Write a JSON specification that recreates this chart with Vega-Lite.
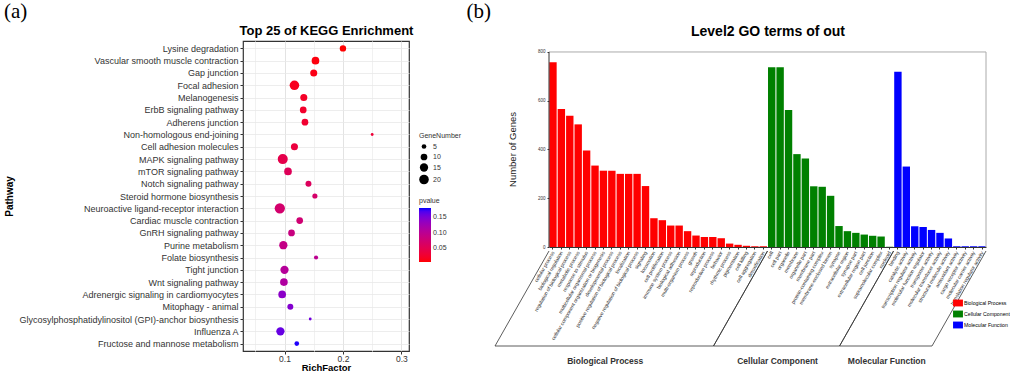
{
  "$schema": "https://vega.github.io/schema/vega-lite/v6.json",
  "padding": {"left": 3, "top": 0, "right": 0, "bottom": 0},
  "background": "white",
  "config": {"font": "Liberation Sans", "view": {"stroke": null}},
  "spacing": 3,
  "resolve": {"scale": {"color": "independent", "size": "independent", "x": "independent", "y": "independent"}, "legend": {"color": "independent", "size": "independent"}},
  "hconcat": [
    {
      "width": 166,
      "height": 310,
      "title": {"text": "(a)", "anchor": "start", "font": "Liberation Serif", "fontSize": 21, "fontWeight": "normal", "color": "black", "offset": 2},
      "view": {"stroke": "#333333", "strokeWidth": 1.2},
      "data": {"values": [
        {"pathway": "Lysine degradation", "rf": 0.200, "genes": 9, "p": 0.004},
        {"pathway": "Vascular smooth muscle contraction", "rf": 0.153, "genes": 13, "p": 0.008},
        {"pathway": "Gap junction", "rf": 0.150, "genes": 11, "p": 0.011},
        {"pathway": "Focal adhesion", "rf": 0.117, "genes": 20, "p": 0.015},
        {"pathway": "Melanogenesis", "rf": 0.133, "genes": 11, "p": 0.020},
        {"pathway": "ErbB signaling pathway", "rf": 0.132, "genes": 10, "p": 0.023},
        {"pathway": "Adherens junction", "rf": 0.135, "genes": 10, "p": 0.026},
        {"pathway": "Non-homologous end-joining", "rf": 0.250, "genes": 2, "p": 0.030},
        {"pathway": "Cell adhesion molecules", "rf": 0.117, "genes": 11, "p": 0.035},
        {"pathway": "MAPK signaling pathway", "rf": 0.097, "genes": 22, "p": 0.045},
        {"pathway": "mTOR signaling pathway", "rf": 0.106, "genes": 13, "p": 0.055},
        {"pathway": "Notch signaling pathway", "rf": 0.141, "genes": 8, "p": 0.058},
        {"pathway": "Steroid hormone biosynthesis", "rf": 0.152, "genes": 6, "p": 0.068},
        {"pathway": "Neuroactive ligand-receptor interaction", "rf": 0.092, "genes": 23, "p": 0.070},
        {"pathway": "Cardiac muscle contraction", "rf": 0.126, "genes": 10, "p": 0.075},
        {"pathway": "GnRH signaling pathway", "rf": 0.112, "genes": 10, "p": 0.085},
        {"pathway": "Purine metabolism", "rf": 0.098, "genes": 15, "p": 0.090},
        {"pathway": "Folate biosynthesis", "rf": 0.154, "genes": 4, "p": 0.098},
        {"pathway": "Tight junction", "rf": 0.100, "genes": 15, "p": 0.105},
        {"pathway": "Wnt signaling pathway", "rf": 0.099, "genes": 13, "p": 0.110},
        {"pathway": "Adrenergic signaling in cardiomyocytes", "rf": 0.096, "genes": 13, "p": 0.140},
        {"pathway": "Mitophagy - animal", "rf": 0.110, "genes": 8, "p": 0.145},
        {"pathway": "Glycosylphosphatidylinositol (GPI)-anchor biosynthesis", "rf": 0.144, "genes": 2, "p": 0.155},
        {"pathway": "Influenza A", "rf": 0.093, "genes": 15, "p": 0.160},
        {"pathway": "Fructose and mannose metabolism", "rf": 0.121, "genes": 5, "p": 0.178}
      ]},
      "resolve": {"axis": {"x": "independent"}},
      "layer": [
        {
          "mark": {"type": "circle", "opacity": 1},
          "encoding": {
            "y": {"field": "pathway", "type": "nominal", "sort": null,
              "scale": {"type": "point", "padding": 0.6},
              "axis": {"title": "Pathway", "titleFontSize": 10, "titleFontWeight": "bold", "titleColor": "black", "titleX": -229,
                "labelFontSize": 9, "labelColor": "#333333", "labelPadding": 2, "labelLimit": 0,
                "grid": true, "gridColor": "#E8E8E8", "gridWidth": 0.8, "tickColor": "#333333", "tickSize": 3, "domain": false}},
            "x": {"field": "rf", "type": "quantitative",
              "scale": {"domain": [0.029, 0.313], "nice": false, "zero": false},
              "axis": {"title": "RichFactor", "titleFontSize": 9.5, "titleFontWeight": "bold", "titleColor": "black", "titlePadding": 0,
                "values": [0.05, 0.1, 0.15, 0.2, 0.25, 0.3],
                "labelExpr": "datum.value == 0.1 ? '0.1' : datum.value == 0.2 ? '0.2' : datum.value == 0.3 ? '0.3' : ''",
                "labelFontSize": 8.5, "labelColor": "#333333", "labelPadding": 0,
                "grid": true,
                "gridColor": {"condition": {"test": "datum.value == 0.1 || datum.value == 0.2 || datum.value == 0.3", "value": "#E3E3E3"}, "value": "#F1F1F1"},
                "tickOpacity": {"condition": {"test": "datum.value == 0.1 || datum.value == 0.2 || datum.value == 0.3", "value": 1}, "value": 0},
                "tickColor": "#333333", "tickSize": 3, "domain": false}},
            "size": {"field": "genes", "type": "quantitative",
              "scale": {"domain": [2, 24], "range": [8, 110]},
              "legend": {"title": "GeneNumber", "values": [5, 10, 15, 20], "orient": "none", "legendX": 176, "legendY": 91,
                "titleFontSize": 7, "titleFontWeight": "normal", "titleColor": "#333333", "labelFontSize": 7, "labelColor": "#333333",
                "symbolFillColor": "black", "symbolStrokeWidth": 0, "symbolType": "circle", "rowPadding": 2.5, "titlePadding": 4}},
            "color": {"field": "p", "type": "quantitative",
              "scale": {"domain": [0.004, 0.18], "range": ["red", "blue"], "interpolate": "lab"},
              "legend": {"title": "pvalue", "values": [0.05, 0.1, 0.15], "format": ".2f", "orient": "none", "legendX": 176, "legendY": 156,
                "direction": "vertical", "gradientLength": 54, "gradientThickness": 12, "gradientStrokeWidth": 0,
                "titleFontSize": 7, "titleFontWeight": "normal", "titleColor": "#333333", "labelFontSize": 7, "labelColor": "#333333", "titlePadding": 4}}
          }
        },
        {
          "mark": {"type": "circle", "opacity": 0},
          "encoding": {
            "y": {"field": "pathway", "type": "nominal", "sort": null},
            "x": {"field": "rf", "type": "quantitative",
              "axis": {"orient": "top", "title": "Top 25 of KEGG Enrichment", "titleFontSize": 13, "titleFontWeight": "bold", "titleColor": "black", "titlePadding": 4,
                "labels": false, "ticks": false, "domain": false, "grid": false}}
          }
        }
      ]
    },
    {
      "width": 437,
      "height": 206,
      "title": {"text": "(b)", "anchor": "start", "font": "Liberation Serif", "fontSize": 21, "fontWeight": "normal", "color": "black", "offset": 2, "dx": -28},
      "resolve": {"scale": {"x": "independent"}},
      "layer": [
        {
          "data": {"values": [
            {"term": "cellular process", "category": "Biological Process", "count": 758},
            {"term": "biological regulation", "category": "Biological Process", "count": 566},
            {"term": "regulation of biological process", "category": "Biological Process", "count": 538},
            {"term": "metabolic process", "category": "Biological Process", "count": 503},
            {"term": "response to stimulus", "category": "Biological Process", "count": 396},
            {"term": "multicellular organismal process", "category": "Biological Process", "count": 334},
            {"term": "cellular component organization or biogenesis", "category": "Biological Process", "count": 313},
            {"term": "developmental process", "category": "Biological Process", "count": 313},
            {"term": "positive regulation of biological process", "category": "Biological Process", "count": 300},
            {"term": "localization", "category": "Biological Process", "count": 300},
            {"term": "negative regulation of biological process", "category": "Biological Process", "count": 300},
            {"term": "signaling", "category": "Biological Process", "count": 250},
            {"term": "locomotion", "category": "Biological Process", "count": 118},
            {"term": "cell proliferation", "category": "Biological Process", "count": 110},
            {"term": "immune system process", "category": "Biological Process", "count": 88},
            {"term": "biological adhesion", "category": "Biological Process", "count": 88},
            {"term": "multi-organism process", "category": "Biological Process", "count": 65},
            {"term": "growth", "category": "Biological Process", "count": 47},
            {"term": "reproduction", "category": "Biological Process", "count": 41},
            {"term": "reproductive process", "category": "Biological Process", "count": 41},
            {"term": "behavior", "category": "Biological Process", "count": 36},
            {"term": "rhythmic process", "category": "Biological Process", "count": 14},
            {"term": "pigmentation", "category": "Biological Process", "count": 9},
            {"term": "cell killing", "category": "Biological Process", "count": 5},
            {"term": "cell aggregation", "category": "Biological Process", "count": 3},
            {"term": "detoxification", "category": "Biological Process", "count": 3},
            {"term": "cell", "category": "Cellular Component", "count": 737},
            {"term": "cell part", "category": "Cellular Component", "count": 737},
            {"term": "organelle", "category": "Cellular Component", "count": 562},
            {"term": "membrane", "category": "Cellular Component", "count": 381},
            {"term": "organelle part", "category": "Cellular Component", "count": 363},
            {"term": "membrane part", "category": "Cellular Component", "count": 249},
            {"term": "protein-containing complex", "category": "Cellular Component", "count": 247},
            {"term": "membrane-enclosed lumen", "category": "Cellular Component", "count": 210},
            {"term": "synapse", "category": "Cellular Component", "count": 86},
            {"term": "extracellular region", "category": "Cellular Component", "count": 65},
            {"term": "synapse part", "category": "Cellular Component", "count": 58},
            {"term": "extracellular region part", "category": "Cellular Component", "count": 51},
            {"term": "cell junction", "category": "Cellular Component", "count": 46},
            {"term": "supramolecular complex", "category": "Cellular Component", "count": 43},
            {"term": "nucleoid", "category": "Cellular Component", "count": 1},
            {"term": "binding", "category": "Molecular Function", "count": 719},
            {"term": "catalytic activity", "category": "Molecular Function", "count": 330},
            {"term": "transcription regulator activity", "category": "Molecular Function", "count": 85},
            {"term": "molecular function regulator", "category": "Molecular Function", "count": 82},
            {"term": "transporter activity", "category": "Molecular Function", "count": 70},
            {"term": "molecular transducer activity", "category": "Molecular Function", "count": 58},
            {"term": "structural molecule activity", "category": "Molecular Function", "count": 35},
            {"term": "antioxidant activity", "category": "Molecular Function", "count": 3},
            {"term": "cargo receptor activity", "category": "Molecular Function", "count": 3},
            {"term": "molecular carrier activity", "category": "Molecular Function", "count": 3},
            {"term": "translation regulator activity", "category": "Molecular Function", "count": 3}
          ]},
          "mark": {"type": "bar"},
          "encoding": {
            "x": {"field": "term", "type": "nominal", "sort": null,
              "scale": {"paddingInner": 0.12, "paddingOuter": 0.03},
              "axis": {"title": null, "labelAngle": -60, "labelFontSize": 5, "labelColor": "#333333", "labelPadding": 2, "labelOverlap": false, "labelLimit": 0,
                "tickSize": 2, "tickColor": "#333333", "domainColor": "#333333"}},
            "y": {"field": "count", "type": "quantitative",
              "scale": {"domain": [0, 845], "nice": false, "zero": true},
              "axis": {"title": "Number of Genes", "titleFontSize": 9.5, "titleFontWeight": "normal", "titleColor": "#222222", "titlePadding": 20, "titleY": 108,
                "values": [0, 200, 400, 600, 800], "labelFontSize": 4.5, "labelColor": "#333333", "labelPadding": 2,
                "grid": false, "tickSize": 2, "tickColor": "#333333", "domain": false}},
            "color": {"field": "category", "type": "nominal",
              "scale": {"domain": ["Biological Process", "Cellular Component", "Molecular Function"], "range": ["#FF0000", "#008000", "#0000FF"]},
              "legend": {"title": null, "orient": "none", "legendX": 405, "legendY": 258,
                "symbolType": "M-1.3,-0.9H1.3V0.9H-1.3Z", "symbolSize": 58, "symbolStrokeWidth": 0, "symbolOpacity": 1,
                "labelFontSize": 5.2, "labelOffset": 2, "rowPadding": 3,
                "encoding": {"labels": {"update": {"fill": {"signal": "datum.value === 'Biological Process' ? '#FF0000' : datum.value === 'Cellular Component' ? '#008000' : '#0000FF'"}}}}}}
          }
        },
        {
          "data": {"values": [{}]},
          "mark": {"type": "rule", "color": "#333333", "strokeWidth": 1},
          "encoding": {
            "x": {"datum": 0, "type": "quantitative", "scale": {"domain": [0, 52], "nice": false, "zero": false}, "axis": null},
            "y": {"datum": 0, "type": "quantitative"},
            "y2": {"datum": 800}
          }
        },
        {
          "data": {"values": [{}]},
          "mark": {"type": "rule", "color": "#AAAAAA", "strokeWidth": 1},
          "encoding": {
            "x": {"datum": 0, "type": "quantitative", "scale": {"domain": [0, 52], "nice": false, "zero": false}, "axis": null},
            "x2": {"datum": 52},
            "y": {"datum": 800, "type": "quantitative"}
          }
        },
        {
          "data": {"values": [{}]},
          "mark": {"type": "rule", "color": "#AAAAAA", "strokeWidth": 1},
          "encoding": {
            "x": {"datum": 52, "type": "quantitative", "scale": {"domain": [0, 52], "nice": false, "zero": false}, "axis": null},
            "y": {"datum": 0, "type": "quantitative"},
            "y2": {"datum": 800}
          }
        },
        {
          "data": {"values": [
            {"group": "Biological Process", "start": 0, "end": 26},
            {"group": "Cellular Component", "start": 26, "end": 41},
            {"group": "Molecular Function", "start": 41, "end": 52}
          ]},
          "transform": [{"fold": ["start", "end"], "as": ["edge", "pos"]}],
          "mark": {"type": "rule", "color": "#333333", "strokeWidth": 0.8, "yOffset": 4, "y2Offset": 99, "x2Offset": -54},
          "encoding": {
            "x": {"field": "pos", "type": "quantitative", "scale": {"domain": [0, 52], "nice": false, "zero": false},
              "axis": {"orient": "top", "title": "Level2 GO terms of out", "titleFontSize": 14, "titleFontWeight": "bold", "titleColor": "black", "titlePadding": 3,
                "labels": false, "ticks": false, "domain": false, "grid": false}},
            "x2": {"field": "pos"},
            "y": {"datum": 0, "type": "quantitative"},
            "y2": {"datum": 0}
          }
        },
        {
          "data": {"values": [
            {"group": "Biological Process", "start": 0, "end": 26},
            {"group": "Cellular Component", "start": 26, "end": 41},
            {"group": "Molecular Function", "start": 41, "end": 52}
          ]},
          "mark": {"type": "rule", "color": "#333333", "strokeWidth": 0.8, "xOffset": -54, "x2Offset": -54, "yOffset": 99, "y2Offset": 99},
          "encoding": {
            "x": {"field": "start", "type": "quantitative", "scale": {"domain": [0, 52], "nice": false, "zero": false}, "axis": null},
            "x2": {"field": "end"},
            "y": {"datum": 0, "type": "quantitative"},
            "y2": {"datum": 0}
          }
        },
        {
          "data": {"values": [
            {"group": "Biological Process", "start": 0, "end": 26},
            {"group": "Cellular Component", "start": 26, "end": 41},
            {"group": "Molecular Function", "start": 41, "end": 52}
          ]},
          "transform": [
            {"fold": ["start", "end"], "as": ["edge", "pos"]},
            {"aggregate": [{"op": "mean", "field": "pos", "as": "mid"}], "groupby": ["group"]}
          ],
          "mark": {"type": "text", "fontWeight": "bold", "fontSize": 8.5, "color": "#333333", "xOffset": -53, "yOffset": 114, "baseline": "middle", "align": "center"},
          "encoding": {
            "x": {"field": "mid", "type": "quantitative", "scale": {"domain": [0, 52], "nice": false, "zero": false}, "axis": null},
            "y": {"datum": 0, "type": "quantitative"},
            "text": {"field": "group"}
          }
        }
      ]
    }
  ]
}
